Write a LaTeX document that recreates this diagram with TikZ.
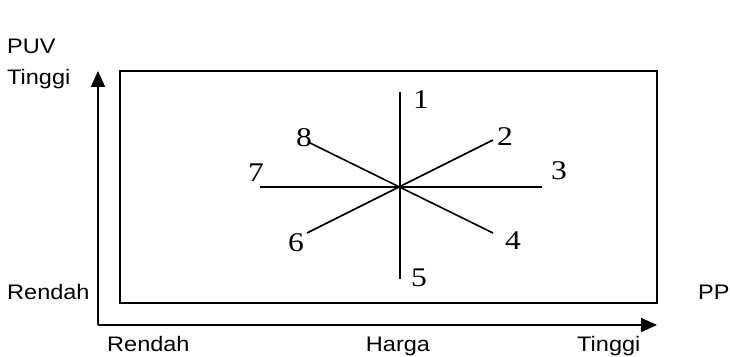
\documentclass[tikz,border=0pt]{standalone}
\usepackage{fontspec}
\usepackage{tikz}
\usetikzlibrary{arrows.meta, positioning, calc}
\newfontfamily\lblfont[FakeStretch=1.12]{Liberation Sans}
\newfontfamily\numfont[FakeStretch=1.17]{Liberation Serif}

\begin{document}
\begin{tikzpicture}[x=1pt, y=1pt,
  axis/.style={line width=1.8pt, -{Triangle[length=16pt, width=14pt]}},
  frame/.style={draw, line width=1.8pt},
  spoke/.style={line width=1.6pt},
  lbl/.style={inner sep=0pt, font=\lblfont\fontsize{21}{25}\selectfont},
  num/.style={inner sep=0pt, anchor=base, font=\numfont\fontsize{27}{31}\selectfont},
]
\useasboundingbox (0,0) rectangle (730,356);

% frame and axes
\draw[frame] (120,53) rectangle (657,285);
\coordinate (o) at (98,31);
\coordinate (ytop) at (98,285);
\coordinate (xend) at (657,31);
\draw[axis] (o) -- (ytop);
\draw[axis] (o) -- (xend);

% spokes
\coordinate (c) at (400,169);
\coordinate (s1) at (400,264);
\coordinate (s2) at (493,216);
\coordinate (s3) at (542,169);
\coordinate (s4) at (493,123);
\coordinate (s5) at (400,77);
\coordinate (s6) at (307,123);
\coordinate (s7) at (260,169);
\coordinate (s8) at (308,214);
\draw[spoke] (s1) -- (s5);
\draw[spoke] (s7) -- (s3);
\draw[spoke] (s2) -- (s6);
\draw[spoke] (s8) -- (s4);

\node[num] (n1) at (421,247) {1};
\node[num] (n2) at (505,210) {2};
\node[num] (n3) at (559,176) {3};
\node[num] (n4) at (513,106) {4};
\node[num] (n5) at (419,70) {5};
\node[num] (n6) at (296,104) {6};
\node[num] (n7) at (256,174) {7};
\node[num] (n8) at (304,209) {8};

% axis texts
\node[lbl, anchor=base west] (puv) at (7,302) {PUV};
\node[lbl, anchor=base west] (ytinggi) at (7,271) {Tinggi};
\node[lbl, anchor=base west] (yrendah) at (7,57) {Rendah};
\node[lbl, anchor=base west] (pp) at (698,57) {PP};
\node[lbl, anchor=base west] (xrendah) at (107,5) {Rendah};
\node[lbl, anchor=base] (harga) at (398,5) {Harga};
\node[lbl, anchor=base west] (xtinggi) at (577,5) {Tinggi};
\end{tikzpicture}
\end{document}
